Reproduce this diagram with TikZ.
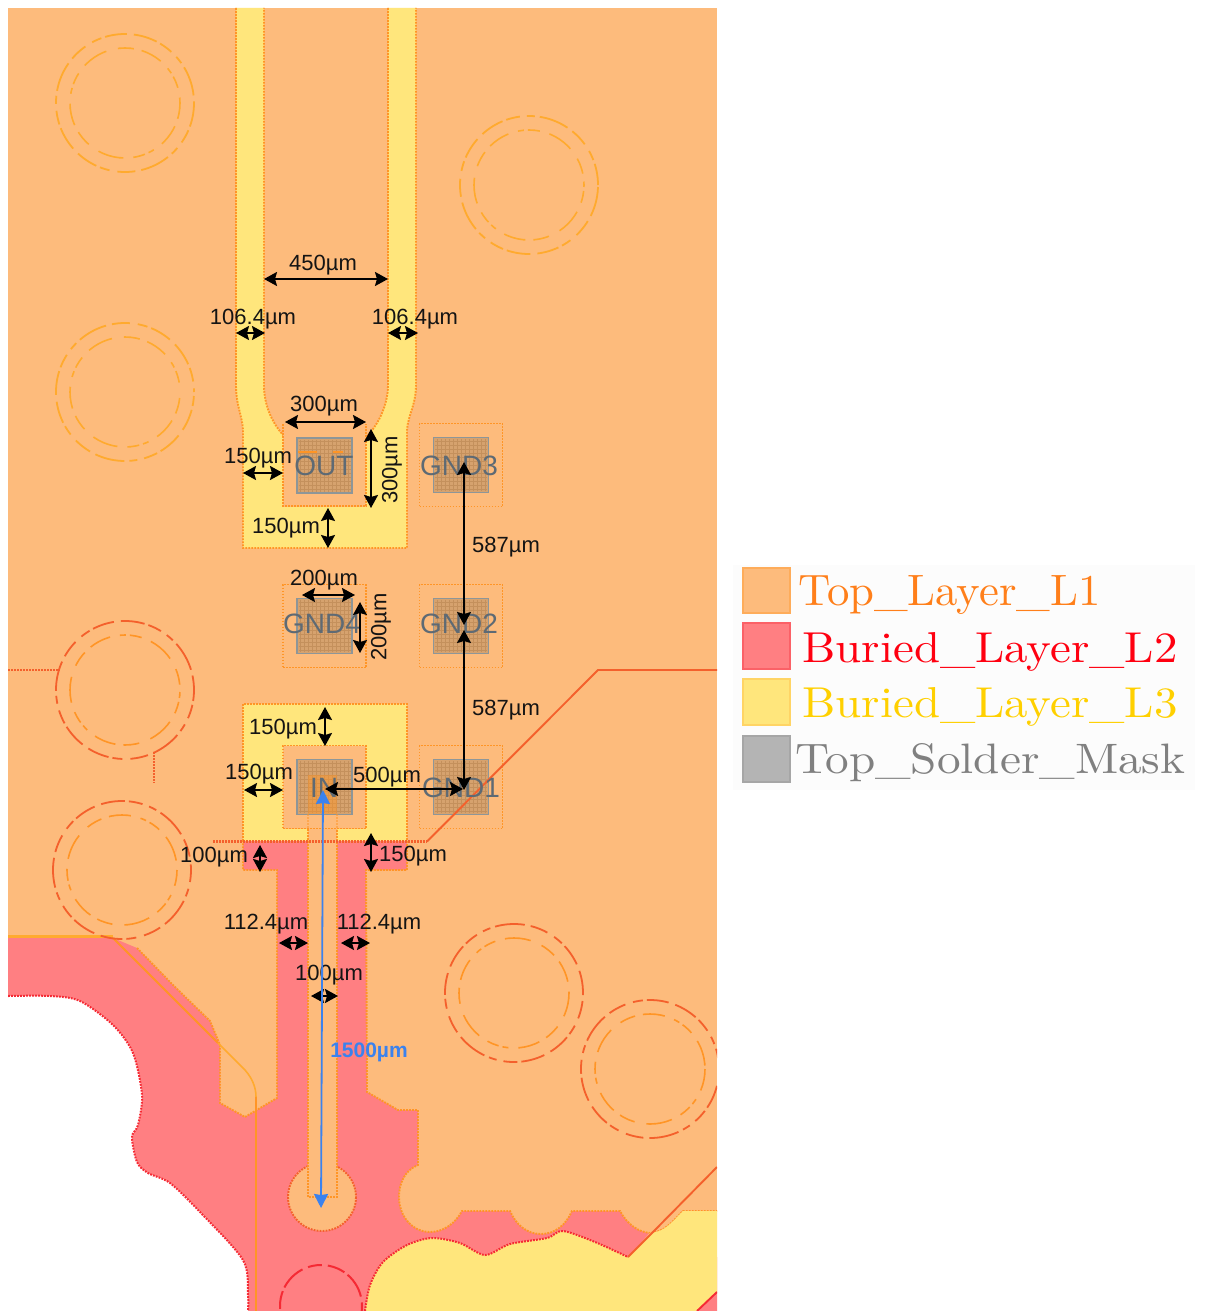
\documentclass[tikz,border=0pt]{standalone}
\usepackage{fontspec}
\usepackage{graphicx}
\usetikzlibrary{arrows.meta,calc}
\newfontfamily\dimfont{Liberation Sans}
\definecolor{layerA}{HTML}{FDBB7C}
\definecolor{layerB}{HTML}{FF7F82}
\definecolor{layerC}{HTML}{FFE67C}
\definecolor{maskG}{HTML}{B4B4B4}
\definecolor{edgeA}{HTML}{FF9526}
\definecolor{edgeB}{HTML}{F52A34}
\definecolor{edgeC}{HTML}{F4602C}
\definecolor{edgeD}{HTML}{FFAA2E}
\definecolor{maskfill}{HTML}{D6A26E}
\definecolor{maskgrid}{HTML}{C4905C}
\definecolor{maskedge}{HTML}{8E9698}
\definecolor{padtext}{HTML}{5E6A74}
\definecolor{bluedim}{HTML}{3B82EE}
\tikzset{
  dimtip/.tip={Stealth[length=6.5pt,width=7pt,inset=1pt]},
  dimarrow/.style={draw=black,line width=1pt,dimtip-dimtip},
  bluetip/.tip={Stealth[length=7pt,width=7pt,inset=0.5pt]},
  bluearrow/.style={draw=bluedim,line width=0.9pt,bluetip-bluetip},
  dimtext/.style={font=\dimfont\fontsize{11}{12}\selectfont,text=black!92,inner sep=0pt},
  dimtextblue/.style={dimtext,text=bluedim,font=\dimfont\bfseries\fontsize{10.5}{12}\selectfont},
  padtextstyle/.style={font=\dimfont\fontsize{14}{15}\selectfont,text=padtext,inner sep=0pt},
  finedots/.style={dash pattern=on 0.9pt off 0.6pt},
  padouter/.style={draw=edgeA,fill=layerA,finedots,line width=0.9pt,minimum size=41.5pt,inner sep=0pt},
  maskouter/.style={draw=maskedge,fill=maskfill,line width=0.8pt,minimum size=27.5pt,inner sep=0pt},
  edgeorange/.style={draw=edgeA,finedots,line width=0.95pt},
  edgered/.style={draw=edgeB,finedots,line width=1pt},
  copperline/.style={draw=edgeC,line width=0.95pt},
  ringouter/.style={draw=#1,line width=0.9pt,dash pattern=on 12pt off 2pt on 7pt off 3.5pt on 4pt off 2.5pt on 15pt off 3pt on 9pt off 4pt on 5pt off 2pt on 11pt off 3.5pt},
  ringinner/.style={draw=#1,line width=0.8pt,dash pattern=on 8pt off 4pt on 11pt off 5pt on 3pt off 2pt on 6pt off 5pt on 13pt off 6pt},
  legendtext/.style={anchor=base west,inner sep=0pt}
}
\newcommand{\padcell}[5]{%
  \node[padouter,#5] (#1) at (#2,#3) {};
  \node[maskouter] (#1m) at (#2,#3) {};
  \foreach \gridk in {-24,-20,...,24}{%
    \draw[maskgrid,line width=0.2pt] ($(#2,#3)+(\gridk,-26)$) -- ($(#2,#3)+(\gridk,26)$);
    \draw[maskgrid,line width=0.2pt] ($(#2,#3)+(-26,\gridk)$) -- ($(#2,#3)+(26,\gridk)$);
  }%
  \node[maskouter,fill=none] (#1e) at (#2,#3) {};
}
\newcommand{\viaring}[6]{%
  \draw[ringouter=#4,dash phase=#6pt] (#1,#2) circle[radius=#3];
  \draw[ringinner=#5,dash phase=#6pt] (#1,#2) circle[radius=55];
}
\newcommand{\dimline}[5]{%
  \coordinate (#1a) at (#2,#3);
  \coordinate (#1b) at (#4,#5);
  \draw[dimarrow] (#1a) -- (#1b);
}
\newcommand{\dimlabel}[4]{\node[dimtext] (#1) at (#2,#3+2) {#4};}
\begin{document}
\begin{tikzpicture}[x=0.5pt,y=-0.5pt]
\useasboundingbox (0,0) rectangle (1205,1311);
\fill[white] (0,0) rectangle (1205,1311);
\begin{scope}
\clip (8,8) rectangle (717,1311);
% base
\fill[layerA] (8,8) rectangle (717,1311);
% buried red layer
\fill[layerB] (8,938) -- (113,938) -- (137,948) -- (173,985) -- (210,1021) -- (220,1045) -- (220,1103) -- (245,1117) -- (277,1098) -- (277,870) -- (243,870) -- (243,841) -- (407,841) -- (407,870) -- (366,870) -- (367,1092) -- (398,1110) -- (418,1110) -- (418,1165)
  .. controls (405,1170) and (399,1183) .. (399,1197) .. controls (399,1217) and (413,1232) .. (430,1232) .. controls (443,1232) and (455,1224) .. (462,1211) -- (510,1211) .. controls (516,1225) and (527,1234) .. (541,1234) .. controls (555,1234) and (566,1225) .. (572,1211) -- (620,1211) .. controls (627,1224) and (638,1232) .. (650,1233) -- (628,1257) -- (717,1257) -- (717,1311) -- (248,1311) -- (8,1311) -- cycle;
% edges of the red layer against the top layer
\draw[edgeorange] (137,948) -- (173,985) -- (210,1021) -- (220,1045) -- (220,1103) -- (245,1117) -- (277,1098) -- (277,870) -- (243,870) -- (243,841);
\draw[edgeorange] (407,841) -- (407,870) -- (366,870) -- (367,1092) -- (398,1110) -- (418,1110) -- (418,1165)
  .. controls (405,1170) and (399,1183) .. (399,1197) .. controls (399,1217) and (413,1232) .. (430,1232) .. controls (443,1232) and (455,1224) .. (462,1211) -- (510,1211) .. controls (516,1225) and (527,1234) .. (541,1234) .. controls (555,1234) and (566,1225) .. (572,1211) -- (620,1211) .. controls (627,1224) and (638,1232) .. (650,1233) .. controls (665,1232) and (672,1222) .. (683,1211) -- (717,1211);
% white cut
\fill[white] plot[smooth,tension=0.5] coordinates {(8,996) (50,996) (80,1001) (113,1025) (133,1053) (142,1095) (138,1125) (132,1137) (137,1162) (148,1173) (170,1183) (200,1212) (243,1260) (248,1295) (248,1311)} -- (0,1311) -- (0,996) -- cycle;
\draw[edgered] plot[smooth,tension=0.5] coordinates {(8,996) (50,996) (80,1001) (113,1025) (133,1053) (142,1095) (138,1125) (132,1137) (137,1162) (148,1173) (170,1183) (200,1212) (243,1260) (248,1295) (248,1311)};
% lower via on red
\draw[edgered,line width=1pt,dash pattern=on 13pt off 3pt on 7pt off 3pt on 9pt off 2pt] (321,1306) circle[radius=41];
% bottom yellow
\fill[layerC] (683,1211) -- (717,1211) -- (717,1292) -- (697,1311) -- (365,1311) -- plot[smooth,tension=0.5] coordinates {(365,1311) (370,1285) (383,1262) (407,1245) (432,1238) (460,1243) (485,1255) (510,1244) (547,1238) (563,1231) (595,1242) (628,1257)} -- (650,1233) .. controls (665,1232) and (672,1222) .. (683,1211) -- cycle;
\draw[edgered] plot[smooth,tension=0.5] coordinates {(365,1311) (370,1285) (383,1262) (407,1245) (432,1238) (460,1243) (485,1255) (510,1244) (547,1238) (563,1231) (595,1242) (628,1257)};
\draw[copperline,draw=edgeB] (717,1292) -- (697,1311);
% routed lines on the red layer
\draw[draw=edgeD,line width=1.6pt] (8,936.5) -- (113,936.5);
\draw[draw=edgeA,line width=0.9pt] (113,938) -- (218,1043);
\draw[draw=edgeD,line width=0.8pt] (218,1043) -- (245,1070) .. controls (252,1078) and (256,1087) .. (256,1097);
\draw[draw=edgeA,line width=0.8pt] (256,1097) -- (256,1311);
\draw[copperline] (628,1257) -- (652,1233) -- (717,1167);
% vias
\viaring{125}{103}{69}{edgeD}{edgeD}{0}
\viaring{529}{185}{69}{edgeD}{edgeD}{30}
\viaring{125}{392}{69}{edgeD}{edgeD}{60}
\viaring{125}{690}{69}{edgeC}{edgeA}{90}
\viaring{122}{870}{69}{edgeC}{edgeA}{15}
\viaring{514}{993}{69}{edgeC}{edgeA}{45}
\viaring{650}{1069}{69}{edgeC}{edgeA}{75}
\draw[copperline,finedots] (8,670) -- (60,670);
\draw[copperline,finedots] (154,752) -- (154,783);
% yellow feed (U)
\fill[layerC] (236,8) -- (236,385) .. controls (236,405) and (242,415) .. (243,430) -- (243,548) -- (407,548) -- (407,430) .. controls (408,415) and (416,405) .. (416,385) -- (416,8) -- (388,8) -- (388,385) .. controls (388,405) and (378,428) .. (360,443) -- (360,500) -- (288,500) -- (288,440) .. controls (272,425) and (264,405) .. (264,385) -- (264,8) -- cycle;
\draw[edgeorange] (236,8) -- (236,385) .. controls (236,405) and (242,415) .. (243,430) -- (243,548) -- (407,548) -- (407,430) .. controls (408,415) and (416,405) .. (416,385) -- (416,8);
\draw[edgeorange] (388,8) -- (388,385) .. controls (388,405) and (378,428) .. (360,443);
\draw[edgeorange] (288,440) .. controls (272,425) and (264,405) .. (264,385) -- (264,8);
% yellow input
\fill[layerC] (243,704) rectangle (407,841);
\draw[edgeorange] (243,841) -- (243,704) -- (407,704) -- (407,841);
% feed circle and trace
\fill[layerA] (322,1197) circle[radius=34];
\draw[edgeorange,draw=edgeC] (322,1197) circle[radius=34];
\fill[layerA] (308,775) rectangle (337,1197);
% pads
\padcell{padOUT}{324.5}{465.5}{OUT}{draw=none}
\draw[edgeorange] (283,424) -- (283,506) -- (366,506) -- (366,424);
\padcell{padGNDc}{461}{465}{GND3}{}
\padcell{padGNDd}{324.5}{626}{GND4}{}
\padcell{padGNDb}{461}{626}{GND2}{}
\padcell{padIN}{324.5}{787}{IN}{}
\padcell{padGNDa}{461}{787}{GND1}{}
% trace edges
\fill[edgeA,opacity=0.45] (308,775) rectangle (337,814);
\draw[edgeorange] (308,829) -- (308,1197) -- (337,1197) -- (337,829);
\draw[edgeorange,opacity=0.5] (308,814) -- (308,829) (337,814) -- (337,829);
\draw[draw=edgeA,line width=1pt] (298,452) -- (317,452) (333,452) -- (343,452);
% red lines on top
\draw[copperline,finedots,line width=1.1pt] (213,841.5) -- (427,841.5);
\draw[copperline] (427,841.5) -- (598,670) -- (717,670);
\end{scope}
% pad names
\node[padtextstyle] (tOUT) at (324,466) {OUT};
\node[padtextstyle] (tGNDc) at (459,466) {GND3};
\node[padtextstyle] (tGNDd) at (322,624) {GND4};
\node[padtextstyle] (tGNDb) at (459,624) {GND2};
\node[padtextstyle] (tIN) at (324,788) {IN};
\node[padtextstyle] (tGNDa) at (461,788) {GND1};
% dimensions
\dimline{da}{264}{279}{388}{279}
\dimlabel{la}{323}{263}{450µm}
\dimline{db}{236}{333}{265}{333}
\dimlabel{lb}{253}{317}{106.4µm}
\dimline{dc}{388}{333}{418}{333}
\dimlabel{lc}{415}{317}{106.4µm}
\dimline{dd}{285}{422}{366}{422}
\dimlabel{ld}{324}{404}{300µm}
\dimline{de}{371}{429}{371}{508}
\node[dimtext,rotate=90] (le) at (392,470) {300µm};
\dimline{df}{243}{473}{283}{473}
\dimlabel{lf}{258}{456}{150µm}
\dimline{dg}{328}{508}{328}{548}
\dimlabel{lg}{286}{526}{150µm}
\dimline{dh}{302}{595}{355}{595}
\dimlabel{lh}{324}{578}{200µm}
\dimline{di}{360}{602}{360}{653}
\node[dimtext,rotate=90] (li) at (381,627) {200µm};
\dimline{dj}{464}{462}{464}{625}
\dimlabel{lj}{506}{545}{587µm}
\dimline{dk}{464}{630}{464}{790}
\dimlabel{lk}{506}{708}{587µm}
\dimline{dl}{325}{789}{463}{789}
\dimlabel{ll}{387}{775}{500µm}
\dimline{dm}{325}{707}{325}{746}
\dimlabel{lm}{283}{727}{150µm}
\dimline{dn}{244}{790}{283}{790}
\dimlabel{ln}{259}{772}{150µm}
\dimline{dp}{260}{845}{260}{872}
\dimlabel{lp}{214}{855}{100µm}
\dimline{dq}{371}{833}{371}{872}
\dimlabel{lq}{413}{854}{150µm}
\dimline{dr}{279}{943}{308}{943}
\dimlabel{lr}{266}{922}{112.4µm}
\dimline{ds}{341}{943}{370}{943}
\dimlabel{ls}{379}{922}{112.4µm}
\dimline{dt}{311}{996}{338}{996}
\dimlabel{lt}{329}{973}{100µm}
\coordinate (dua) at (323,790);
\coordinate (dub) at (321,1208);
\draw[bluearrow] (dua) -- (dub);
\node[dimtextblue] (lu) at (369,1052) {1500µm};
% legend
\fill[black!1] (733,565) rectangle (1195,790);
\fill[layerA,draw=edgeA!40!layerA,line width=0.6pt] (743,568) rectangle (790,613);
\fill[layerB,draw=edgeB!35!layerB,line width=0.6pt] (743,623) rectangle (790,669);
\fill[layerC,draw=edgeD!30!layerC,line width=0.6pt] (743,679) rectangle (790,725);
\fill[maskG,draw=black!35,line width=0.6pt] (743,736) rectangle (790,782);
\node[legendtext,text={rgb,255:red,255;green,127;blue,26}] (leg1) at (798,605) {\resizebox{151pt}{15pt}{Top\_Layer\_L1}};
\node[legendtext,text={rgb,255:red,255;green,0;blue,16}] (leg2) at (802,662) {\resizebox{187.5pt}{15pt}{Buried\_Layer\_L2}};
\node[legendtext,text={rgb,255:red,255;green,208;blue,0}] (leg3) at (802,717) {\resizebox{187.5pt}{15pt}{Buried\_Layer\_L3}};
\node[legendtext,text=black!50] (leg4) at (795,773) {\resizebox{195pt}{15pt}{Top\_Solder\_Mask}};
\end{tikzpicture}
\end{document}
